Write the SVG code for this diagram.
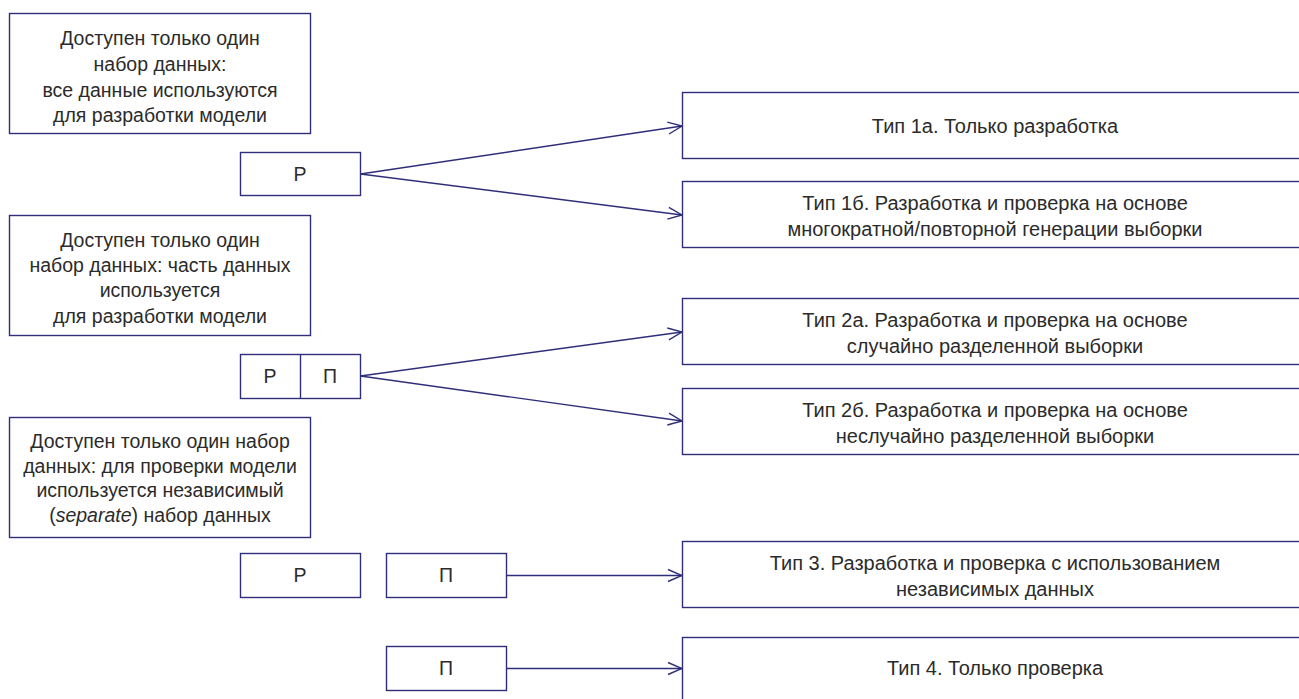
<svg xmlns="http://www.w3.org/2000/svg" width="1299" height="699" viewBox="0 0 1299 699">
<style>
.box{fill:#fff;stroke:#2e2e7a;stroke-width:1.4}
.t{font-family:"Liberation Sans",Arial,sans-serif;font-size:19.5px;fill:#2b2b2b;text-anchor:middle}
.r{font-family:"Liberation Sans",Arial,sans-serif;font-size:20px;fill:#2b2b2b;text-anchor:middle}
.c{fill:none;stroke:#2e2e7a;stroke-width:1.4}
</style>
<defs>
<marker id="ah" viewBox="0 0 16 16" refX="15" refY="8" markerWidth="16" markerHeight="16" markerUnits="userSpaceOnUse" orient="auto">
<path d="M1,2 L15,8 L1,14" fill="none" stroke="#2e2e7a" stroke-width="1.4"/>
</marker>
</defs>
<rect width="1299" height="699" fill="#fff"/>
<g id="src1">
<rect class="box" x="9.5" y="13.5" width="301" height="120"/>
<text class="t" x="160" y="45">Доступен только один</text>
<text class="t" x="160" y="71">набор данных:</text>
<text class="t" x="160" y="97">все данные используются</text>
<text class="t" x="160" y="122">для разработки модели</text>
</g>
<g id="p1">
<rect class="box" x="240.5" y="152.5" width="120" height="43"/>
<text class="t" x="300" y="181">Р</text>
</g>
<g id="src2">
<rect class="box" x="9.5" y="215.5" width="301" height="120"/>
<text class="t" x="160" y="247">Доступен только один</text>
<text class="t" x="160" y="272">набор данных: часть данных</text>
<text class="t" x="160" y="297">используется</text>
<text class="t" x="160" y="323">для разработки модели</text>
</g>
<g id="p2">
<rect class="box" x="240.5" y="354.5" width="120" height="44"/>
<line class="c" x1="300.5" y1="354.5" x2="300.5" y2="398.5"/>
<text class="t" x="270" y="383">Р</text>
<text class="t" x="330" y="383">П</text>
</g>
<g id="src3">
<rect class="box" x="9.5" y="417.5" width="301" height="120"/>
<text class="t" x="160" y="448">Доступен только один набор</text>
<text class="t" x="160" y="473">данных: для проверки модели</text>
<text class="t" x="160" y="497">используется независимый</text>
<text class="t" x="160" y="522">(<tspan font-style="italic">separate</tspan>) набор данных</text>
</g>
<g id="p3r">
<rect class="box" x="240.5" y="553.5" width="120" height="44"/>
<text class="t" x="300" y="582">Р</text>
</g>
<g id="p3p">
<rect class="box" x="386.5" y="553.5" width="120" height="44"/>
<text class="t" x="446" y="582">П</text>
</g>
<g id="p4">
<rect class="box" x="386.5" y="646.5" width="120" height="44"/>
<text class="t" x="446" y="675">П</text>
</g>
<g id="t1a">
<rect class="box" x="682.5" y="92.5" width="630" height="66"/>
<text class="r" x="995" y="133">Тип 1а. Только разработка</text>
</g>
<g id="t1b">
<rect class="box" x="682.5" y="181.5" width="630" height="66"/>
<text class="r" x="995" y="210">Тип 1б. Разработка и проверка на основе</text>
<text class="r" x="995" y="236">многократной/повторной генерации выборки</text>
</g>
<g id="t2a">
<rect class="box" x="682.5" y="298.5" width="630" height="66"/>
<text class="r" x="995" y="327">Тип 2а. Разработка и проверка на основе</text>
<text class="r" x="995" y="353">случайно разделенной выборки</text>
</g>
<g id="t2b">
<rect class="box" x="682.5" y="388.5" width="630" height="66"/>
<text class="r" x="995" y="417">Тип 2б. Разработка и проверка на основе</text>
<text class="r" x="995" y="443">неслучайно разделенной выборки</text>
</g>
<g id="t3">
<rect class="box" x="682.5" y="541.5" width="630" height="66"/>
<text class="r" x="995" y="570">Тип 3. Разработка и проверка с использованием</text>
<text class="r" x="995" y="596">независимых данных</text>
</g>
<g id="t4">
<rect class="box" x="682.5" y="637.5" width="630" height="80"/>
<text class="r" x="995" y="675">Тип 4. Только проверка</text>
</g>
<g id="connectors">
<line class="c" x1="360.5" y1="174" x2="682" y2="126" marker-end="url(#ah)"/>
<line class="c" x1="360.5" y1="174" x2="682" y2="215" marker-end="url(#ah)"/>
<line class="c" x1="360.5" y1="376" x2="682" y2="332" marker-end="url(#ah)"/>
<line class="c" x1="360.5" y1="376" x2="682" y2="421" marker-end="url(#ah)"/>
<line class="c" x1="506.5" y1="575.5" x2="682" y2="575.5" marker-end="url(#ah)"/>
<line class="c" x1="506.5" y1="668.5" x2="682" y2="668.5" marker-end="url(#ah)"/>
</g>
</svg>
